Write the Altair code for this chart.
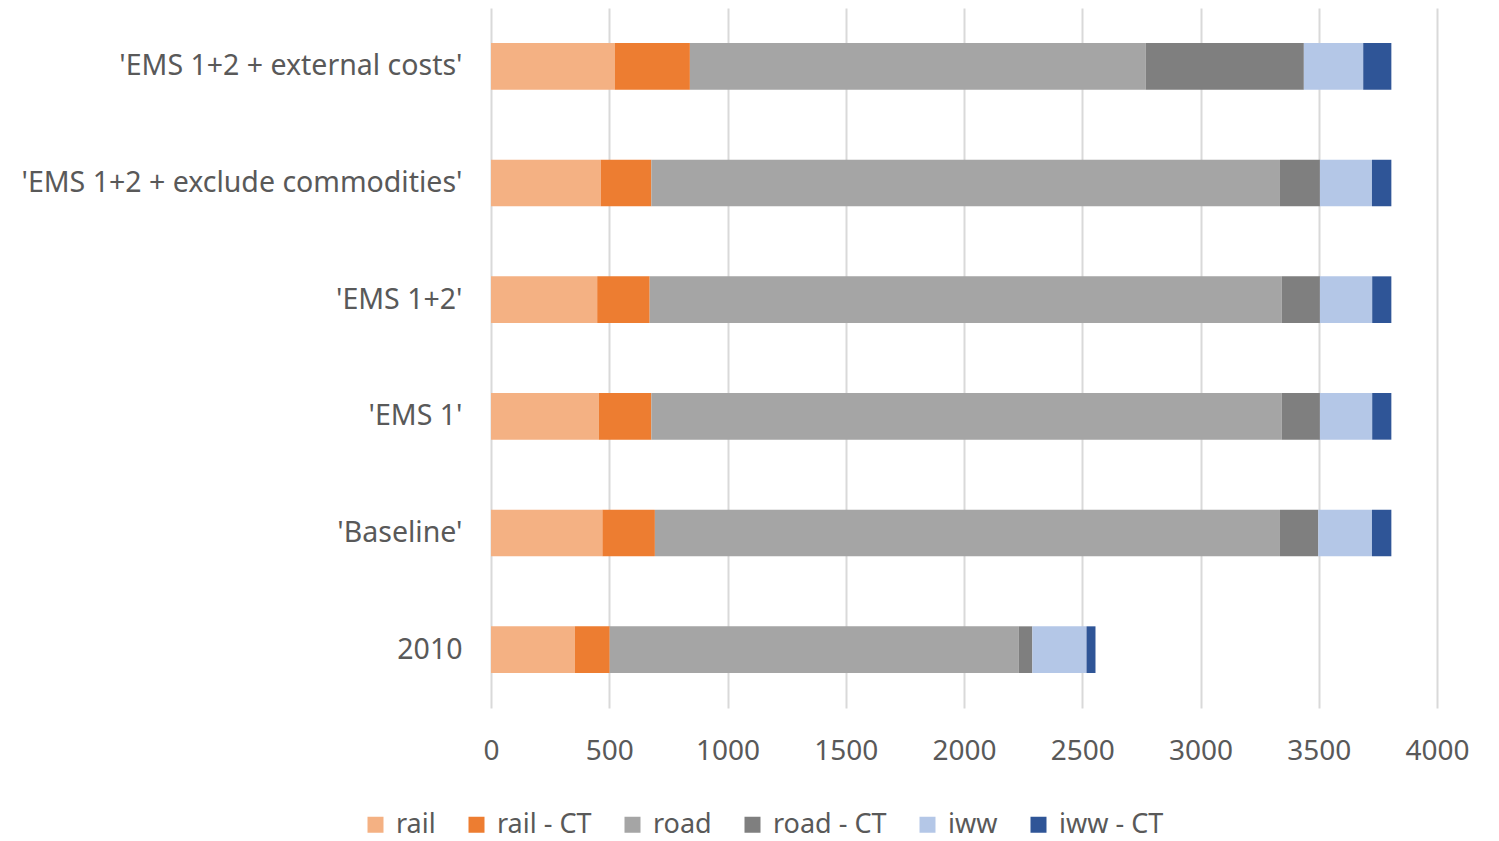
import altair as alt
import pandas as pd

# Freight volumes per scenario, split by mode and combined transport (CT)
scenarios = [
    "'EMS 1+2 + external costs'",
    "'EMS 1+2 + exclude commodities'",
    "'EMS 1+2'",
    "'EMS 1'",
    "'Baseline'",
    "2010",
]
modes = ["rail", "rail - CT", "road", "road - CT", "iww", "iww - CT"]
colors = ["#F4B183", "#ED7D31", "#A5A5A5", "#7F7F7F", "#B4C7E7", "#2F5597"]

rail = [523, 464, 449, 456, 471, 354]
rail_ct = [318, 214, 222, 222, 222, 148]
road = [1927, 2658, 2672, 2665, 2643, 1730]
road_ct = [669, 169, 162, 162, 162, 57]
iww = [251, 220, 221, 221, 227, 229]
iww_ct = [119, 82, 81, 81, 82, 38]

series = [rail, rail_ct, road, road_ct, iww, iww_ct]
rows = []
for mi, (mode, vals) in enumerate(zip(modes, series)):
    for s, v in zip(scenarios, vals):
        rows.append({"scenario": s, "mode": mode, "value": v, "order": mi})
df = pd.DataFrame(rows)

font = "Noto Sans"
label_color = "#595959"

chart = (
    alt.Chart(df)
    .mark_bar()
    .encode(
        x=alt.X(
            "value:Q",
            stack="zero",
            scale=alt.Scale(domain=[0, 4000], nice=False),
            axis=alt.Axis(
                values=list(range(0, 4001, 500)),
                format="d",
                title=None,
                domain=False,
                ticks=False,
                grid=True,
                gridColor="#D9D9D9",
                gridWidth=2,
                labelPadding=29,
                labelFlush=False,
                labelOverlap=False,
                labelFontSize=28,
                labelFont=font,
                labelColor=label_color,
            ),
        ),
        y=alt.Y(
            "scenario:N",
            sort=scenarios,
            scale=alt.Scale(paddingInner=0.6, paddingOuter=0.3),
            axis=alt.Axis(
                title=None,
                domain=False,
                ticks=False,
                labelPadding=29,
                labelFontSize=28.5,
                labelFont=font,
                labelColor=label_color,
                labelLimit=600,
            ),
        ),
        color=alt.Color(
            "mode:N",
            scale=alt.Scale(domain=modes, range=colors),
            legend=alt.Legend(
                title=None,
                orient="none",
                legendX=-129,
                legendY=803,
                direction="horizontal",
                columns=6,
                symbolType="square",
                symbolSize=256,
                symbolStrokeWidth=0,
                labelFontSize=27,
                labelFont=font,
                labelColor=label_color,
                labelOffset=7,
                columnPadding=27,
            ),
        ),
        order=alt.Order("order:Q", sort="ascending"),
    )
    .properties(
        width=946,
        height=700,
        autosize=alt.AutoSizeParams(type="none"),
        padding={"left": 491, "top": 8, "right": 62, "bottom": 133},
    )
    .configure_view(stroke=None)
)

chart.save("out.html", embed_options={"renderer": "svg", "actions": False})
